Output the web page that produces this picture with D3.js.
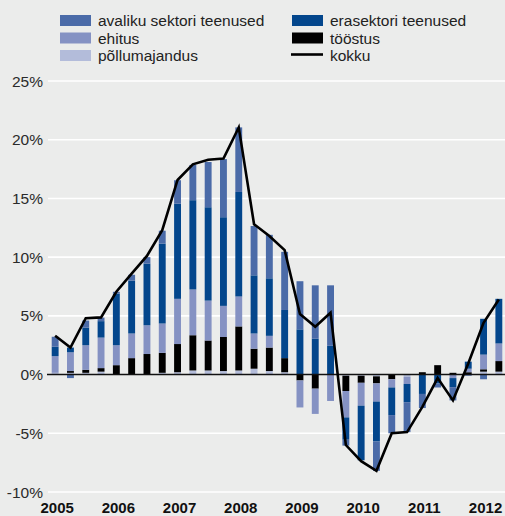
<!DOCTYPE html>
<html><head><meta charset="utf-8">
<script src="https://cdn.jsdelivr.net/npm/d3@7"></script>
<style>
html,body{margin:0;padding:0;background:#ebeceb;}
svg{display:block;font-family:"Liberation Sans",Arial,sans-serif;}
</style></head>
<body><svg id="c" width="505" height="516"></svg>
<script>
const quarters = ["2005Q1","2005Q2","2005Q3","2005Q4","2006Q1","2006Q2","2006Q3","2006Q4",
"2007Q1","2007Q2","2007Q3","2007Q4","2008Q1","2008Q2","2008Q3","2008Q4",
"2009Q1","2009Q2","2009Q3","2009Q4","2010Q1","2010Q2","2010Q3","2010Q4",
"2011Q1","2011Q2","2011Q3","2011Q4","2012Q1","2012Q2"];
const yearLabels = ["2005","2006","2007","2008","2009","2010","2011","2012"];
const yTicks = [-10,-5,0,5,10,15,20,25];
const pollumajandus = [0.15,0.15,0.15,0.25,0,0,0,0.15,0.2,0.35,0.35,0.3,0.35,0.5,0.3,0.2,0,0,0,-0.1,-0.1,-0.15,0,-0.2,0,0,0,0,0.25,0.25];
const toostus = [0,0.15,0.25,0.3,0.8,1.4,1.75,1.7,2.4,3.0,2.55,2.9,3.75,1.7,2.0,1.2,-0.5,-1.2,0,-1.3,-0.6,-0.6,-0.4,0,0.2,0.8,0.15,0.2,0.2,0.9];
const ehitus = [1.42,1.6,2.1,2.6,1.7,2.1,2.45,2.5,3.85,3.9,3.4,2.65,2.55,1.3,1.0,0,-2.3,-2.15,-2.25,-2.25,-1.95,-1.55,-0.7,-0.6,0,0,-0.3,0.3,1.25,1.5];
const erasektori = [0.8,0.4,1.5,1.4,4.4,4.5,5.25,6.8,8.1,7.6,7.95,7.55,8.9,4.95,4.9,4.1,3.85,3.05,2.45,-1.9,-4.65,-3.4,-2.35,-1.55,-1.65,-0.75,-0.77,0.6,3.05,3.8];
const avaliku = [0.85,-0.3,0.6,0.3,0.15,0.5,0.55,1.1,2.0,3.0,3.85,4.95,5.5,4.2,3.7,4.95,4.1,4.55,5.15,-0.5,0,-2.5,-1.55,-2.55,-1.2,-0.35,-1.13,-0.1,-0.4,0];
const kokku = [3.3,2.3,4.8,4.87,7.05,8.6,10.1,12.3,16.57,17.9,18.3,18.4,21.05,12.8,11.8,10.6,5.15,4.07,5.27,-6.0,-7.37,-8.2,-5.0,-4.9,-2.75,-0.3,-2.2,0.95,4.4,6.4];

const keys = ["pollumajandus","toostus","ehitus","erasektori","avaliku"];
const colors = {pollumajandus:"#b3bcda", toostus:"#000000", ehitus:"#8592c3", erasektori:"#03468c", avaliku:"#4b6ba8"};
const labels = {pollumajandus:"põllumajandus", toostus:"tööstus", ehitus:"ehitus", erasektori:"erasektori teenused", avaliku:"avaliku sektori teenused"};

const table = quarters.map((q,i)=>({q, pollumajandus:pollumajandus[i], toostus:toostus[i], ehitus:ehitus[i], erasektori:erasektori[i], avaliku:avaliku[i], kokku:kokku[i]}));

const svg = d3.select("#c");
const x = d3.scaleBand().domain(quarters).range([47.5,506.5]).paddingInner(0.55).paddingOuter(0.275);
const y = d3.scaleLinear().domain([-10,25]).range([492,81]);

// gridlines
svg.append("g").selectAll("line").data(yTicks.filter(d=>d!==0)).join("line")
  .attr("x1",48).attr("x2",505).attr("y1",d=>y(d)).attr("y2",d=>y(d))
  .attr("stroke","#ffffff").attr("stroke-width",1.6);

// y labels
svg.append("g").selectAll("text").data(yTicks).join("text")
  .attr("x",43).attr("y",d=>y(d)).attr("dy","0.36em").attr("text-anchor","end")
  .attr("font-size","15.5px").attr("fill","#2a2a2a").text(d=>d+"%");

// bars
const stack = d3.stack().keys(keys).offset(d3.stackOffsetDiverging);
const series = stack(table);
svg.append("g").selectAll("g").data(series).join("g")
  .attr("fill",d=>colors[d.key])
  .selectAll("rect").data(d=>d).join("rect")
  .attr("x",d=>x(d.data.q)).attr("width",x.bandwidth())
  .attr("y",d=>y(Math.max(d[0],d[1]))).attr("height",d=>Math.abs(y(d[0])-y(d[1])));

// zero line
svg.append("line").attr("x1",47).attr("x2",505).attr("y1",y(0)).attr("y2",y(0))
  .attr("stroke","#111").attr("stroke-width",1.5);

// kokku line
const line = d3.line().x(d=>x(d.q)+x.bandwidth()/2).y(d=>y(d.kokku));
svg.append("path").datum(table).attr("d",line).attr("fill","none")
  .attr("stroke","#000").attr("stroke-width",2.6).attr("stroke-linejoin","miter");

// x labels
svg.append("g").selectAll("text").data(yearLabels).join("text")
  .attr("x",d=>x(d+"Q1")+x.bandwidth()/2+2).attr("y",513).attr("text-anchor","middle")
  .attr("font-size","15px").attr("font-weight","bold").attr("fill","#111").text(d=>d);

// legend
const legendItems = [
  {k:"avaliku", col:0,row:0},{k:"erasektori",col:1,row:0},
  {k:"ehitus",col:0,row:1},{k:"toostus",col:1,row:1},
  {k:"pollumajandus",col:0,row:2},{k:"kokku",col:1,row:2}];
const lg = svg.append("g");
legendItems.forEach(it=>{
  const sx = it.col===0 ? 60 : 292;
  const top = 15 + it.row*17.5;
  if(it.k==="kokku"){
    lg.append("line").attr("x1",sx-1).attr("x2",sx+31).attr("y1",top+4.5).attr("y2",top+4.5)
      .attr("stroke","#000").attr("stroke-width",2.6);
  } else {
    lg.append("rect").attr("x",sx).attr("y",top).attr("width",31).attr("height",11).attr("fill",colors[it.k]);
  }
  lg.append("text").attr("x",sx+38).attr("y",top+11).attr("font-size","15.5px").attr("fill","#222")
    .text(it.k==="kokku"?"kokku":labels[it.k]);
});
</script></body></html>
